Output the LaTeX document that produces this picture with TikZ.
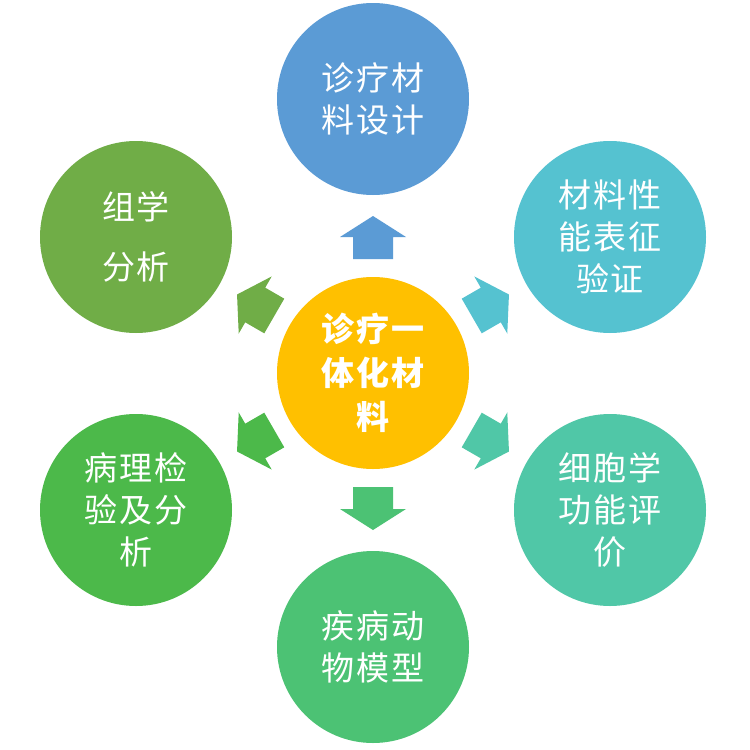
\documentclass[tikz,border=0pt]{standalone}
\usepackage{fontspec}
\newfontfamily\cjk[LetterSpace=6]{Noto Sans CJK SC}
\definecolor{cCenter}{HTML}{FFC000}
\definecolor{cBlue}{HTML}{5B9BD5}
\definecolor{cTeal}{HTML}{55C2D0}
\definecolor{cSea}{HTML}{50C7A7}
\definecolor{cGreen}{HTML}{4CC274}
\definecolor{cLeaf}{HTML}{4CB94A}
\definecolor{cOlive}{HTML}{70AD47}
\begin{document}
\begin{tikzpicture}[x=1pt,y=-1pt,
  bubble/.style={circle, minimum size=192pt, inner sep=0pt, text=white, align=center,
    font=\cjk\fontsize{33}{42}\selectfont}]
\useasboundingbox (0,0) rectangle (750,750);
\fill[white] (0,0) rectangle (750,750);
\node[bubble, fill=cCenter, font=\cjk\bfseries\fontsize{33}{44}\selectfont] (c) at (373,373) {诊疗一\\体化材\\料};
\node[bubble, fill=cBlue] (top) at (373,99) {诊疗材\\料设计};
\node[bubble, fill=cTeal] (ur) at (610,237) {材料性\\能表征\\验证};
\node[bubble, fill=cSea] (lr) at (610,510) {细胞学\\功能评\\价};
\node[bubble, fill=cGreen] (bot) at (373,647) {疾病动\\物模型};
\node[bubble, fill=cLeaf] (ll) at (136,510) {病理检\\验及分\\析};
\node[bubble, fill=cOlive, font=\cjk\fontsize{33}{60}\selectfont] (ul) at (136,237) {组学\\分析};
\foreach \a/\col in {0/cBlue, -60/cTeal, -120/cSea, 180/cGreen, 120/cLeaf, 60/cOlive}
  \fill[\col, shift={(c.center)}, rotate=\a]
    (-20,-114) -- (20,-114) -- (20,-136) -- (33,-136) -- (0,-157) -- (-33,-136) -- (-20,-136) -- cycle;
\end{tikzpicture}
\end{document}
